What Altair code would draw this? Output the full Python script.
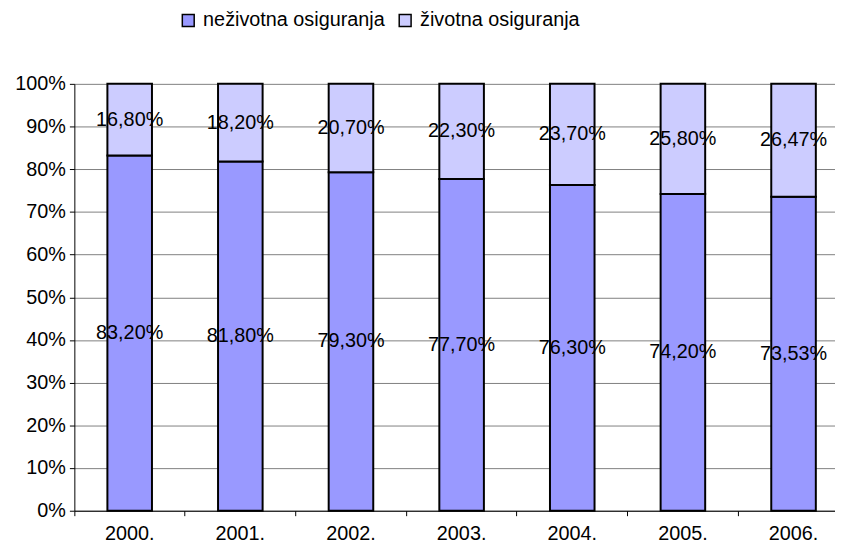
import altair as alt
import pandas as pd

years = ["2000.", "2001.", "2002.", "2003.", "2004.", "2005.", "2006."]
nezivotna = [83.20, 81.80, 79.30, 77.70, 76.30, 74.20, 73.53]
zivotna = [16.80, 18.20, 20.70, 22.30, 23.70, 25.80, 26.47]
series = ["neživotna osiguranja", "životna osiguranja"]
colors = ["#9999FF", "#CCCCFF"]

rows = []
for y, a, b in zip(years, nezivotna, zivotna):
    rows.append({"year": y, "type": series[0], "order": 0, "value": a / 100,
                 "start": 0.0, "end": a / 100,
                 "label": f"{a:.2f}".replace(".", ",") + "%"})
    rows.append({"year": y, "type": series[1], "order": 1, "value": b / 100,
                 "start": a / 100, "end": (a + b) / 100,
                 "label": f"{b:.2f}".replace(".", ",") + "%"})
df = pd.DataFrame(rows)
df["mid"] = (df["start"] + df["end"]) / 2

FONT = "Liberation Sans"

x = alt.X("year:N", sort=years, title=None,
          scale=alt.Scale(range=[0, 782], paddingInner=0, paddingOuter=0),
          axis=alt.Axis(labelAngle=0, labelFontSize=20, labelFont=FONT, labelColor="#000",
                        domainColor="#000", tickColor="#000", tickSize=5,
                        bandPosition=0, labelPadding=8, grid=False))

bars = alt.Chart(df).mark_bar(size=45, stroke="#000", strokeWidth=2).encode(
    x=x,
    y=alt.Y("start:Q", title=None,
            scale=alt.Scale(domain=[0, 1], nice=False),
            axis=alt.Axis(values=[i / 10 for i in range(11)], format=".0%",
                          labelFontSize=20, labelFont=FONT, labelColor="#000",
                          domainColor="#000", tickColor="#000", tickSize=5,
                          labelPadding=4, grid=True, gridColor="#808080")),
    y2="end:Q",
    color=alt.Color("type:N", sort=series,
                    scale=alt.Scale(domain=series, range=colors),
                    legend=alt.Legend(title=None, orient="none", direction="horizontal",
                                      legendX=105, legendY=-74, symbolType="square",
                                      symbolSize=144, symbolStrokeColor="#000",
                                      symbolStrokeWidth=1.5, labelFontSize=20,
                                      labelFont=FONT, labelColor="#000", labelLimit=400,
                                      columnPadding=10, symbolOffset=0, labelOffset=5)),
)

labels = alt.Chart(df).mark_text(fontSize=20, font=FONT, color="#000").encode(
    x=alt.X("year:N", sort=years),
    y=alt.Y("mid:Q"),
    text="label:N",
)

chart = alt.layer(bars, labels).properties(
    width=768, height=431,
    autosize=alt.AutoSizeParams(type="none"),
    padding={"left": 67, "top": 74, "right": 0, "bottom": 30},
).configure_view(stroke=None)

chart.save("out.html", embed_options={"renderer": "svg", "actions": False})
